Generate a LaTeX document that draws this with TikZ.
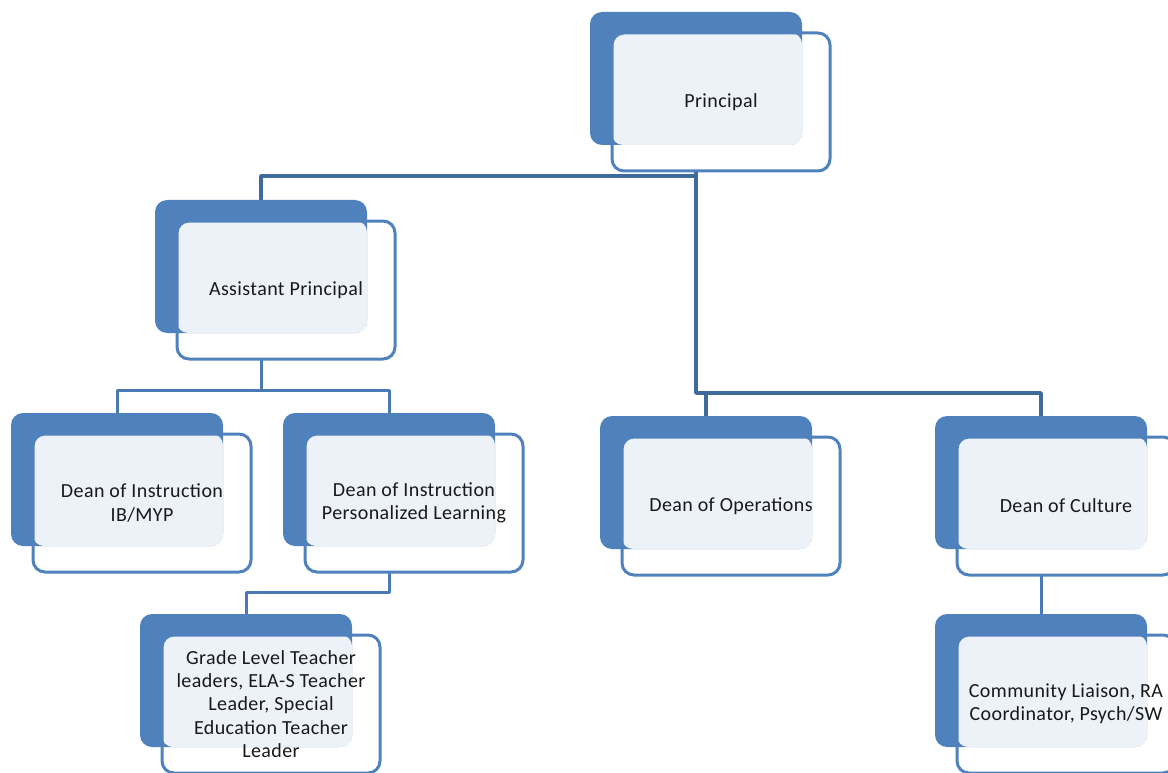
\documentclass[tikz,border=0pt]{standalone}
\usepackage{fontspec}
\setmainfont{Carlito}[LetterSpace=2]
\usetikzlibrary{backgrounds}
\definecolor{boxblue}{HTML}{4F81BD}
\definecolor{lightfill}{HTML}{EDF2F9}
\definecolor{lineA}{HTML}{3F6A9C}
\definecolor{lineB}{HTML}{4A7AB6}
\tikzset{
  backbox/.style={fill=boxblue, rounded corners=12pt, minimum width=212pt, minimum height=133pt, inner sep=0pt, outer sep=0pt},
  frontbox/.style={draw=boxblue, line width=3pt, rounded corners=12pt, minimum width=218pt, minimum height=138pt, inner sep=0pt, outer sep=0pt, align=center, font=\fontsize{20}{23.3}\selectfont, text=black!90},
  conA/.style={draw=lineA, line width=3.5pt, line join=round},
  conB/.style={draw=lineB, line width=3pt, line join=round}
}
\newcommand\orgbox[4]{%
  \node[backbox] (#1b) at (#2+106,#3+66.5) {};
  \fill[lightfill, rounded corners=11pt] (#2+22,#3+21) rectangle (#2+212,#3+133);
  \node[frontbox] (#1) at (#2+131,#3+90) {#4};
}
\begin{document}
\begin{tikzpicture}[x=1pt,y=-1pt]
\useasboundingbox (0,0) rectangle (1168,773);
\orgbox{p}{590}{12}{Principal}
\orgbox{a}{155}{200}{Assistant Principal}
\orgbox{i}{11}{413}{Dean of Instruction\\IB/MYP}
\orgbox{l}{283}{413}{Dean of Instruction\\Personalized Learning}
\orgbox{o}{600}{416}{Dean of Operations}
\orgbox{c}{935}{416}{Dean of Culture}
\orgbox{g}{140}{614}{Grade Level Teacher\\leaders, ELA-S Teacher\\Leader, Special\\Education Teacher\\Leader}
\orgbox{m}{935}{614}{Community Liaison, RA\\Coordinator, Psych/SW}
\coordinate (y1) at (0,176);
\coordinate (y4) at (0,393);
\coordinate (y2) at (0,390);
\coordinate (y3) at (0,592);
\begin{pgfonlayer}{background}
\draw[conA] (pb.south |- p.south) -- (pb.south |- y4) -- (cb.north |- y4) -- (cb.north);
\draw[conA] (ab.north) |- (pb.south |- y1);
\draw[conA] (ob.north |- y4) -- (ob.north);
\draw[conB] (ab.south |- a.south) -- (ab.south |- y2);
\draw[conB] (ib.north) |- (lb.north |- y2) -- (lb.north);
\draw[conB] (lb.south |- l.south) |- (gb.north |- y3) -- (gb.north);
\draw[conB] (cb.south |- c.south) -- (mb.north);
\end{pgfonlayer}
\end{tikzpicture}
\end{document}
